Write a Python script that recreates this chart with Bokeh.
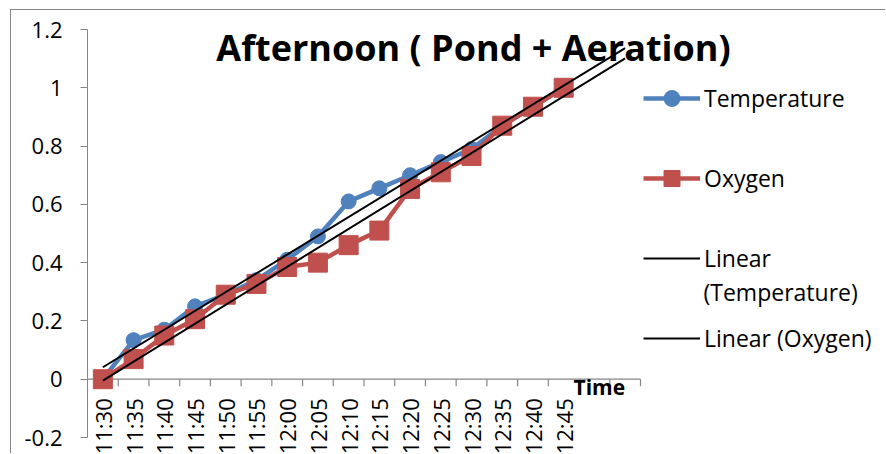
import numpy as np
from bokeh.plotting import figure
from bokeh.models import (Range1d, ColumnDataSource, LabelSet, Label, Legend, LegendItem,
                          FixedTicker, CustomJSTickFormatter)
from bokeh.embed import file_html
from bokeh.resources import INLINE
from bokeh.core.properties import value

# ---------------- data ----------------
times = ["11:30", "11:35", "11:40", "11:45", "11:50", "11:55", "12:00", "12:05",
         "12:10", "12:15", "12:20", "12:25", "12:30", "12:35", "12:40", "12:45"]
temperature = [0.0, 0.134, 0.17, 0.25, 0.29, 0.34, 0.41, 0.49,
               0.61, 0.655, 0.70, 0.745, 0.79, 0.87, 0.935, 1.0]
oxygen = [0.0, 0.069, 0.15, 0.206, 0.29, 0.327, 0.385, 0.40,
          0.46, 0.51, 0.653, 0.71, 0.766, 0.87, 0.935, 1.0]
y_ticks = [-0.2, 0, 0.2, 0.4, 0.6, 0.8, 1, 1.2]
n_slots = 18          # category slots on the axis (two empty at the end)
forecast = 2          # trendline forward forecast (periods)

# ---------------- layout (window pixels) ----------------
WIN_W, WIN_H = 886, 454
OX, OY = 11, 10                      # canvas origin inside the chart-area border
PL, PR, PT, PB = 87, 640, 29, 437    # plot area: axis extents
FONT = "Open Sans"
AXIS_GRAY = "#868686"
BLUE = "#4F81BD"
RED = "#C0504D"

W, H = WIN_W - OX, WIN_H - OY
fl = PL - OX                                 # frame left in canvas px
ux = (PR - PL) / n_slots                     # px per category slot
uy = (PB - PT) / (y_ticks[-1] - y_ticks[0])  # px per y unit
x0 = -0.5
x1 = x0 + (W - fl) / ux
y_top = y_ticks[-1] + (PT - OY) / uy
y_bot = y_ticks[0] - (WIN_H - PB) / uy

p = figure(width=W, height=H, output_backend="svg", toolbar_location=None,
           x_range=Range1d(x0, x1), y_range=Range1d(y_bot, y_top),
           x_axis_location=None,
           min_border_left=fl, min_border_right=0,
           min_border_top=0, min_border_bottom=0)
p.styles = {"margin-left": f"{OX - 1}px", "margin-top": f"{OY - 1}px",
            "border-left": f"1px solid {AXIS_GRAY}", "border-top": f"1px solid {AXIS_GRAY}"}
p.outline_line_color = None
p.xgrid.visible = False
p.ygrid.visible = False
p.background_fill_color = "white"
p.border_fill_color = "white"

# y axis (real axis, limited to the tick span)
ya = p.yaxis[0]
ya.bounds = (y_ticks[0], y_ticks[-1])
ya.ticker = FixedTicker(ticks=y_ticks)
ya.formatter = CustomJSTickFormatter(code="return Number(tick.toFixed(1)).toString()")
ya.axis_line_color = AXIS_GRAY
ya.major_tick_line_color = AXIS_GRAY
ya.major_tick_out = 7
ya.major_tick_in = 0
ya.minor_tick_line_color = None
ya.major_label_text_font = FONT
ya.major_label_text_font_size = "22px"
ya.major_label_text_color = "black"
ya.major_label_standoff = 18

# x axis crossing at y = 0 (category axis)
tick_len = 7 / uy
p.segment(x0=[x0], y0=[0], x1=[x0 + n_slots], y1=[0], line_color=AXIS_GRAY, line_width=1.2)
bounds = np.arange(n_slots) + 0.5
p.segment(x0=bounds, y0=np.zeros(n_slots), x1=bounds, y1=np.full(n_slots, -tick_len),
          line_color=AXIS_GRAY, line_width=1.2)

idx = np.arange(len(times))
lab_src = ColumnDataSource(dict(x=idx, y=np.zeros(len(times)), t=times))
p.add_layout(LabelSet(x="x", y="y", text="t", source=lab_src, angle=np.pi / 2,
                      text_align="right", text_baseline="middle", y_offset=-19,
                      text_font=value(FONT), text_font_size="22px", text_color="black"))

# series
t_line = p.line(idx, temperature, line_color=BLUE, line_width=4.5)
t_pts = p.scatter(idx, temperature, marker="circle", size=15, fill_color=BLUE, line_color=BLUE)
o_line = p.line(idx, oxygen, line_color=RED, line_width=4.5)
o_pts = p.scatter(idx, oxygen, marker="square", size=19, fill_color=RED, line_color=RED)

# linear trendlines
tx = np.array([0, len(times) - 1 + forecast], dtype=float)
kt = np.polyfit(idx, temperature, 1)
ko = np.polyfit(idx, oxygen, 1)
tt_line = p.line(tx, np.polyval(kt, tx), line_color="black", line_width=2)
to_line = p.line(tx, np.polyval(ko, tx), line_color="black", line_width=2)

# legend (position relative to frame's bottom-left corner)
legend = Legend(items=[
    LegendItem(label="Temperature", renderers=[t_line, t_pts]),
    LegendItem(label="Oxygen", renderers=[o_line, o_pts]),
    LegendItem(label="Linear", renderers=[tt_line]),
    LegendItem(label="Linear (Oxygen)", renderers=[to_line]),
], location=(643 - PL, WIN_H - 358), padding=0, margin=0, spacing=40, glyph_width=57,
   glyph_height=40, label_height=40, label_standoff=4,
   label_text_font=FONT, label_text_font_size="23px", label_text_color="black",
   border_line_color=None, background_fill_alpha=0)
p.add_layout(legend)

p.add_layout(Label(x=703 - PL, y=WIN_H - 291, x_units="screen", y_units="screen",
                   text="(Temperature)", text_font=FONT, text_font_size="23px",
                   text_baseline="middle", text_align="left", text_color="black"))

# title and axis title
p.add_layout(Label(x=473 - PL, y=WIN_H - 47, x_units="screen", y_units="screen",
                   text="Afternoon ( Pond + Aeration)", text_font=FONT, text_font_size="36px",
                   text_font_style="bold", text_align="center", text_baseline="alphabetic",
                   text_color="black"))
p.add_layout(Label(x=573 - PL, y=WIN_H - 386, x_units="screen", y_units="screen",
                   text="Time", text_font=FONT, text_font_size="21px",
                   text_font_style="bold", text_align="left", text_baseline="alphabetic",
                   text_color="black"))

open("out.html", "w").write(file_html(p, INLINE))
